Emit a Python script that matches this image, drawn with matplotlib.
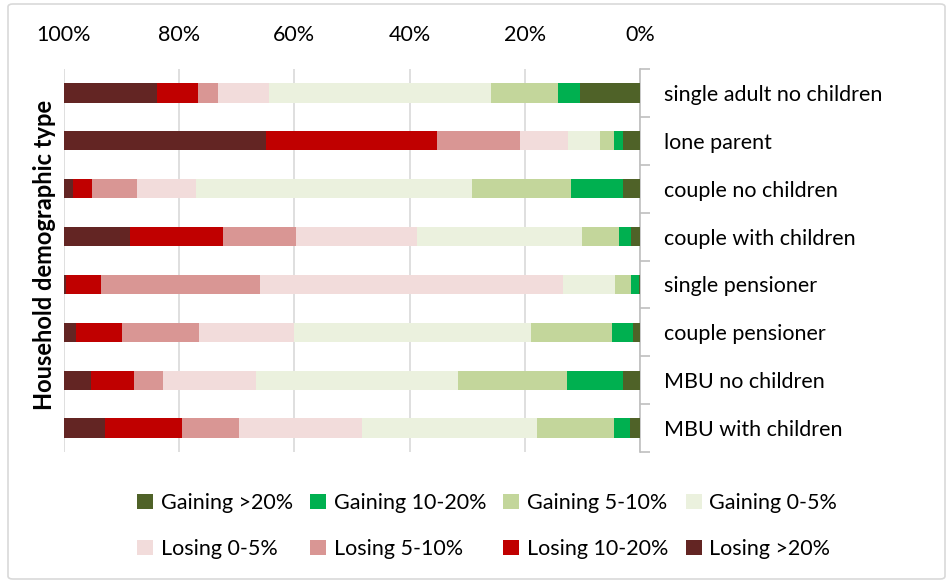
import matplotlib
matplotlib.use("Agg")
import matplotlib.pyplot as plt
import numpy as np
from matplotlib.patches import FancyBboxPatch

plt.rcParams['font.family'] = ['Lato', 'DejaVu Sans']

categories = ["single adult no children", "lone parent", "couple no children",
              "couple with children", "single pensioner", "couple pensioner",
              "MBU no children", "MBU with children"]
series_names = ["Gaining >20%", "Gaining 10-20%", "Gaining 5-10%", "Gaining 0-5%",
                "Losing 0-5%", "Losing 5-10%", "Losing 10-20%", "Losing >20%"]
gain_20 = [10.5, 3.0, 3.0, 1.6, 0.2, 1.2, 2.9, 1.8]
gain_10_20 = [3.7, 1.6, 8.9, 2.1, 1.3, 3.7, 9.8, 2.8]
gain_5_10 = [11.7, 2.3, 17.2, 6.3, 2.9, 14.1, 18.9, 13.2]
gain_0_5 = [38.5, 5.6, 47.9, 28.8, 8.9, 41.1, 35.0, 30.5]
lose_0_5 = [8.8, 8.3, 10.4, 21.0, 52.6, 16.4, 16.2, 21.4]
lose_5_10 = [3.5, 14.5, 7.7, 12.6, 27.7, 13.5, 5.1, 9.9]
lose_10_20 = [7.2, 29.6, 3.3, 16.2, 6.1, 8.0, 7.4, 13.3]
lose_20 = [16.1, 35.1, 1.6, 11.4, 0.3, 2.0, 4.7, 7.1]
colors = ["#4F6228", "#00B050", "#C3D69B", "#EBF1DE",
          "#F2DCDB", "#D99694", "#C00000", "#632523"]
xticks = [0, 20, 40, 60, 80, 100]
xtick_labels = ["0%", "20%", "40%", "60%", "80%", "100%"]

series = [gain_20, gain_10_20, gain_5_10, gain_0_5, lose_0_5, lose_5_10, lose_10_20, lose_20]

fig = plt.figure(figsize=(9.53, 5.81), dpi=100)
ax = fig.add_axes([64/953, 1-452/581, 576/953, 383/581])

y = np.arange(len(categories))
left = np.zeros(len(categories))
handles = []
for vals, name, c in zip(series, series_names, colors):
    vals = np.array(vals, dtype=float)
    h = ax.barh(y, vals, left=left, height=0.4, color=c, label=name, zorder=3)
    handles.append(h)
    left = left + vals

ax.set_xlim(100, 0)
ax.set_ylim(len(categories) - 0.5, -0.5)
ax.set_xticks(xticks)
ax.set_xticklabels(xtick_labels)
ax.xaxis.tick_top()
ax.tick_params(axis='x', length=0, labelsize=15.5, pad=17)
ax.grid(axis='x', color='#D9D9D9', linewidth=1.2, zorder=0)

ax.yaxis.tick_right()
ax.set_yticks(y)
ax.set_yticklabels(categories)
ax.tick_params(axis='y', which='major', length=0, labelsize=15.5, pad=17)
ax.set_yticks(np.arange(-0.5, len(categories)), minor=True)
ax.tick_params(axis='y', which='minor', length=7, color='#BFBFBF', width=1.2, direction='out')

for s in ['top', 'bottom', 'left']:
    ax.spines[s].set_visible(False)
ax.spines['right'].set_color('#BFBFBF')
ax.spines['right'].set_linewidth(1.2)

fig.text(45/953, 1-255/581, "Household demographic type", rotation=90,
         ha='center', va='center', fontsize=17, fontweight='bold')

order = [0, 4, 1, 5, 2, 6, 3, 7]
leg = fig.legend([handles[i] for i in order], [series_names[i] for i in order],
                 ncol=4, loc='center', bbox_to_anchor=(487/953, 1-526/581),
                 frameon=False, fontsize=15.5, handlelength=0.75, handleheight=0.75,
                 handletextpad=0.35, columnspacing=0.8, labelspacing=1.2)

border = FancyBboxPatch((8/953, 2/581), 937/953, 575/581, boxstyle="round,pad=0,rounding_size=0.005",
                        transform=fig.transFigure, fill=False, edgecolor='#D9D9D9', linewidth=1.2)
fig.patches.append(border)

fig.savefig("out.png", dpi=100)
